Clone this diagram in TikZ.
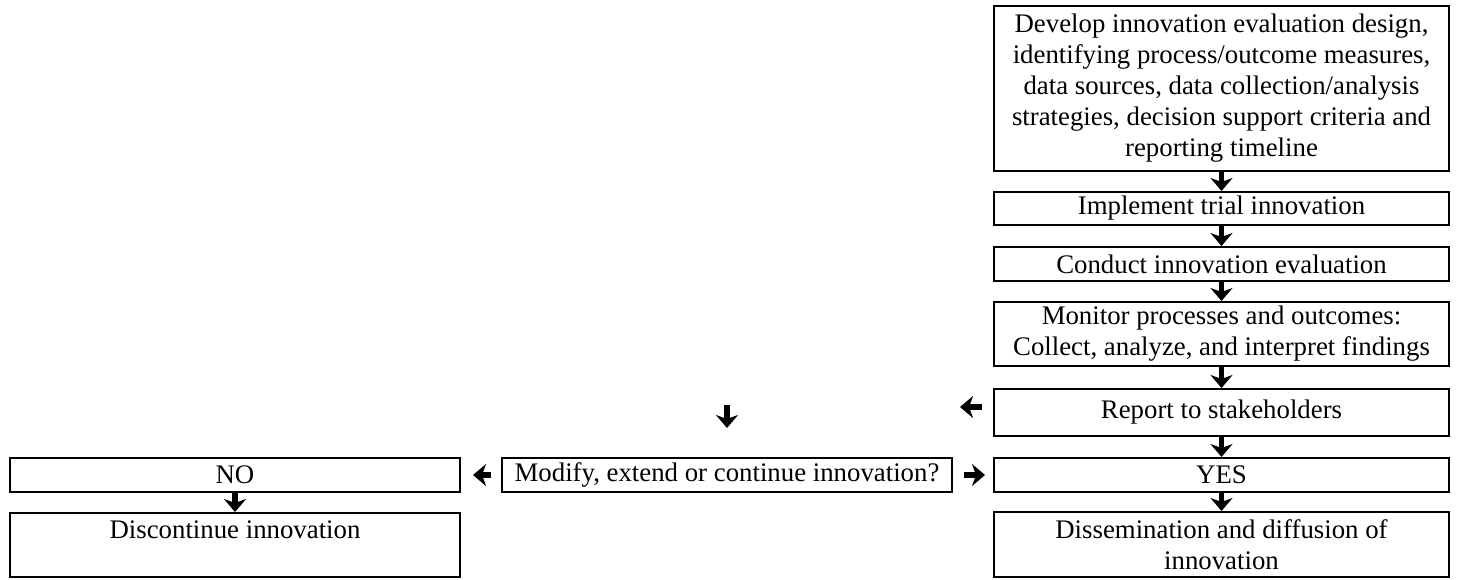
\documentclass[tikz,border=0pt]{standalone}
\usepackage{fontspec}
\setmainfont{Liberation Serif}
\usetikzlibrary{arrows.meta}
\begin{document}
\begin{tikzpicture}[x=0.5pt,y=-0.5pt,
  box/.style={draw, line width=1pt, align=center, inner xsep=2pt, inner ysep=1pt,
    font=\fontsize{13.4}{15.5}\selectfont},
  rcol/.style={box, minimum width=227.5pt},
  lcol/.style={box, minimum width=225pt},
  arr/.style={line width=2.6pt, -{Stealth[length=6.5pt,width=11pt,inset=2pt]}}
]
\useasboundingbox (0,0) rectangle (1457,579);
% right column
\node[rcol, minimum height=82.5pt] (b1) at (1221.5,88.5)
  {Develop innovation evaluation design,\\identifying process/outcome measures,\\data sources, data collection/analysis\\strategies, decision support criteria and\\reporting timeline};
\node[rcol, minimum height=16.5pt] (b2) at (1221.5,208.5) {Implement trial innovation};
\node[rcol, minimum height=17pt] (b3) at (1221.5,264) {Conduct innovation evaluation};
\node[rcol, minimum height=32pt] (b4) at (1221.5,334) {Monitor processes and outcomes:\\Collect, analyze, and interpret findings};
\node[rcol, minimum height=23.5pt] (b5) at (1221.5,412.5) {Report to stakeholders};
\node[rcol, minimum height=17pt] (yes) at (1221.5,475) {YES};
\node[rcol, minimum height=32.5pt] (diss) at (1221.5,544.5) {Dissemination and diffusion of\\innovation};
% middle
\node[lcol, minimum height=17pt] (mod) at (727,475) {Modify, extend or continue innovation?};
% left column
\node[lcol, minimum height=17pt] (no) at (235,475) {NO};
\node[lcol, minimum height=32pt] (disc) at (235,545) {Discontinue innovation\\\mbox{}};
% connectors
\draw[arr] (b1.south) -- (b2.north);
\draw[arr] (b2.south) -- (b3.north);
\draw[arr] (b3.south) -- (b4.north);
\draw[arr] (b4.south) -- (b5.north);
\draw[arr] (b5.south) -- (yes.north);
\draw[arr] (yes.south) -- (diss.north);
\draw[arr] (no.south) -- (disc.north);
\draw[arr] ([xshift=-5pt]mod.west) -- ([xshift=6pt]no.east);
\draw[arr] ([xshift=5.5pt]mod.east) -- ([xshift=-4pt]yes.west);
% free arrows
\coordinate (rl1) at (982,407);
\coordinate (rl2) at (960,407);
\draw[arr] (rl1) -- (rl2);
\coordinate (dd1) at (727,405);
\coordinate (dd2) at (727,428);
\draw[arr] (dd1) -- (dd2);
\end{tikzpicture}
\end{document}
